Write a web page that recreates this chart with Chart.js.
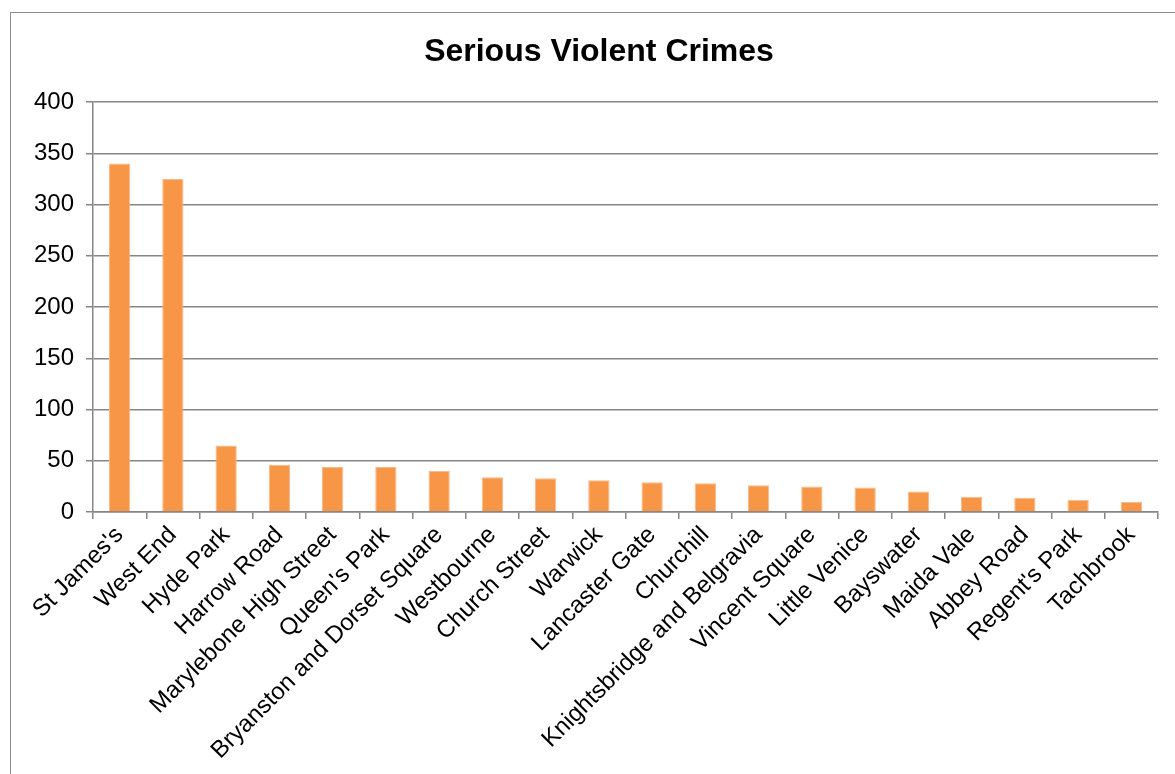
<!DOCTYPE html>
<html>
<head>
<meta charset="utf-8">
<script src="https://cdn.jsdelivr.net/npm/chart.js@4/dist/chart.umd.min.js"></script>
<style>
  html, body { margin: 0; padding: 0; background: #fff; overflow: hidden; }
  #frame { position: absolute; left: 10px; top: 12px; width: 1175px; height: 800px; border: 1.5px solid #8c8c8c; box-sizing: border-box; }
  #wrap { position: absolute; left: 0; top: 0; width: 1175px; height: 774px; }
</style>
</head>
<body>
<div id="frame"></div>
<div id="wrap"><canvas id="crimeChart" width="1175" height="774"></canvas></div>
<script>
// Serious violent crimes by ward
const chartTitle = 'Serious Violent Crimes';
const wards = [
  "St James's", 'West End', 'Hyde Park', 'Harrow Road', 'Marylebone High Street',
  "Queen's Park", 'Bryanston and Dorset Square', 'Westbourne', 'Church Street', 'Warwick',
  'Lancaster Gate', 'Churchill', 'Knightsbridge and Belgravia', 'Vincent Square', 'Little Venice',
  'Bayswater', 'Maida Vale', 'Abbey Road', "Regent's Park", 'Tachbrook'
];
const crimes = [340, 325, 65, 46, 44, 44, 40, 34, 33, 31, 29, 28, 26, 25, 24, 20, 15, 14, 12, 10];
const yTicks = [0, 50, 100, 150, 200, 250, 300, 350, 400];

const gridGrey = '#868686';
const fontFamily = '"Liberation Sans", Arial, sans-serif';

// title is centred on the outer frame, not on the canvas, so draw it here
const frameTitle = {
  id: 'frameTitle',
  afterDraw(chart) {
    const c = chart.ctx;
    c.save();
    c.font = 'bold 32px ' + fontFamily;
    c.fillStyle = '#000';
    c.textAlign = 'center';
    c.textBaseline = 'alphabetic';
    c.fillText(chartTitle, 599, 61);
    c.restore();
  }
};

const ctx = document.getElementById('crimeChart').getContext('2d');
const chart = new Chart(ctx, {
  type: 'bar',
  data: {
    labels: wards,
    datasets: [{
      label: chartTitle,
      data: crimes,
      backgroundColor: '#F79646',
      borderColor: '#FAB98A',
      borderWidth: { top: 1, left: 1, right: 1, bottom: 0 },
      categoryPercentage: 1,
      barPercentage: 0.4
    }]
  },
  plugins: [frameTitle],
  options: {
    responsive: false,
    animation: false,
    layout: { padding: { left: 0, right: 17, top: 102, bottom: 0 } },
    plugins: {
      legend: { display: false },
      tooltip: { enabled: false },
      title: { display: false }
    },
    scales: {
      x: {
        grid: { display: true, drawOnChartArea: false, drawTicks: true, tickLength: 7, color: gridGrey, lineWidth: 1.5 },
        border: { display: true, color: gridGrey, width: 1.5 },
        ticks: {
          color: '#000',
          font: { family: fontFamily, size: 24 },
          minRotation: 45,
          maxRotation: 45,
          autoSkip: false,
          padding: 2
        },
        afterFit: s => { s.height = 262; }
      },
      y: {
        min: 0,
        max: 400,
        afterBuildTicks: s => { s.ticks = yTicks.map(v => ({ value: v })); },
        grid: { color: gridGrey, lineWidth: 1.5, tickLength: 7, drawTicks: true },
        border: { display: true, color: gridGrey, width: 1.5 },
        ticks: {
          color: '#000',
          font: { family: fontFamily, size: 24 },
          padding: 12
        },
        afterFit: s => { s.width = 93; }
      }
    }
  }
});
</script>
</body>
</html>
